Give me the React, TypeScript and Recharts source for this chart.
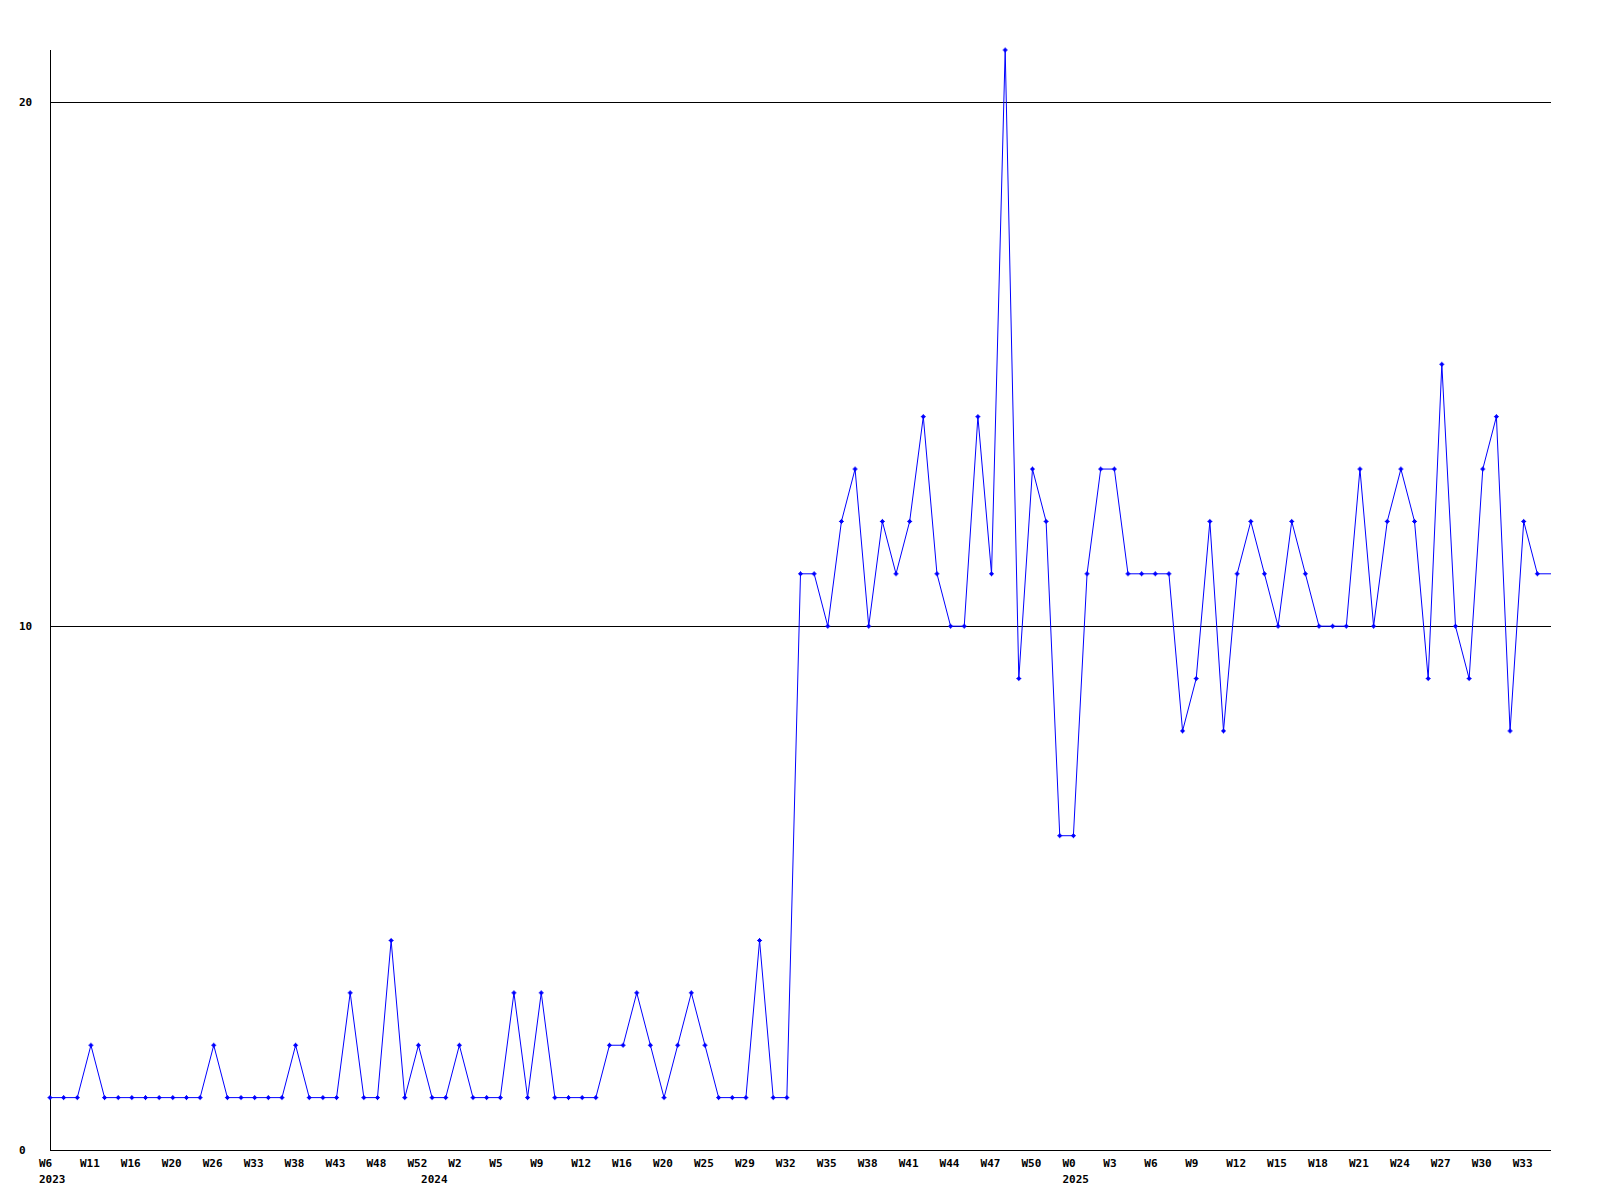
import { LineChart, Line, XAxis, YAxis, ReferenceLine } from 'recharts';

// one label every third week on the axis
const weekLabels = [
  'W6', 'W11', 'W16', 'W20', 'W26', 'W33', 'W38', 'W43', 'W48', 'W52',
  'W2', 'W5', 'W9', 'W12', 'W16', 'W20', 'W25', 'W29', 'W32', 'W35',
  'W38', 'W41', 'W44', 'W47', 'W50',
  'W0', 'W3', 'W6', 'W9', 'W12', 'W15', 'W18', 'W21', 'W24', 'W27', 'W30', 'W33',
];

const years = ['2023', '2024', '2025'];
const yearStart = [0, 28, 75];

const counts = [
  1, 1, 1, 2, 1, 1, 1, 1, 1, 1, 1,
  1, 2, 1, 1, 1, 1, 1, 2, 1, 1,
  1, 3, 1, 1, 4, 1, 2, 1, 1, 2,
  1, 1, 1, 3, 1, 3, 1, 1, 1, 1,
  2, 2, 3, 2, 1, 2, 3, 2, 1, 1,
  1, 4, 1, 1,
  11, 11, 10, 12, 13, 10,
  12, 11, 12, 14, 11, 10, 10, 14, 11, 21,
  9, 13, 12, 6, 6, 11, 13, 13, 11, 11,
  11, 11, 8, 9, 12, 8, 11, 12, 11, 10,
  12, 11, 10, 10, 10, 13, 10, 12, 13, 12,
  9, 15, 10, 9, 13, 14, 8, 12, 11, 11,
];

const yTicks = [0, 10, 20];

const data = counts.map((value, i) => ({ i, value }));
const labelAt: Record<number, string> = {};
weekLabels.forEach((w, k) => { labelAt[k * 3] = w; });
const yearAt: Record<number, string> = {};
yearStart.forEach((idx, k) => { yearAt[idx] = years[k]; });
const xTicks = Array.from(new Set([...Object.keys(labelAt), ...Object.keys(yearAt)].map(Number))).sort((a, b) => a - b);

const font = { fontFamily: '"DejaVu Sans Mono", monospace', fontWeight: 700, fontSize: 11, fill: '#000' };

const WeekTick = (props: any) => {
  const { x, y, payload } = props;
  const w = labelAt[payload.value];
  const yr = yearAt[payload.value];
  return (
    <g>
      {w && <text x={x - 11} y={y + 13} textAnchor="start" dominantBaseline="central" {...font}>{w}</text>}
      {yr && <text x={x - 11} y={y + 29} textAnchor="start" dominantBaseline="central" {...font}>{yr}</text>}
    </g>
  );
};

const CountTick = (props: any) => {
  const { y, payload } = props;
  return <text x={19} y={y} textAnchor="start" dominantBaseline="central" {...font}>{payload.value}</text>;
};

// small cross marker; the last point has none in the original
const Marker = (props: any) => {
  const { cx, cy, index } = props;
  if (cx == null || cy == null || index === counts.length - 1) return <g key={index} />;
  return (
    <g key={index}>
      <path d={`M${cx - 2.5},${cy}H${cx + 2.5}M${cx},${cy - 2.5}V${cy + 2.5}`} stroke="#0000ff" strokeWidth={1} />
      <rect x={cx - 1.5} y={cy - 1.5} width={3} height={3} fill="#0000ff" />
    </g>
  );
};

export default function App() {
  return (
    <div style={{ position: 'absolute', left: 0, top: 0, background: '#fff' }}>
      <LineChart width={1600} height={1200} data={data} margin={{ top: 50, right: 49, left: 0, bottom: 0 }}>
        <XAxis
          dataKey="i"
          type="number"
          domain={[0, counts.length - 1]}
          ticks={xTicks}
          interval={0}
          height={50}
          tickLine={false}
          tickSize={0}
          tickMargin={0}
          axisLine={{ stroke: '#000', shapeRendering: 'crispEdges' }}
          tick={<WeekTick />}
        />
        <YAxis
          type="number"
          domain={[0, 21]}
          ticks={yTicks}
          width={50}
          tickLine={false}
          tickSize={0}
          tickMargin={0}
          axisLine={{ stroke: '#000', shapeRendering: 'crispEdges' }}
          tick={<CountTick />}
        />
        {yTicks.filter((t) => t > 0).map((t) => (
          <ReferenceLine key={t} y={t} stroke="#000" strokeWidth={1} shapeRendering="crispEdges" />
        ))}
        <Line
          type="linear"
          dataKey="value"
          stroke="#0000ff"
          strokeWidth={1}
          dot={<Marker />}
          activeDot={false}
          isAnimationActive={false}
        />
      </LineChart>
    </div>
  );
}
